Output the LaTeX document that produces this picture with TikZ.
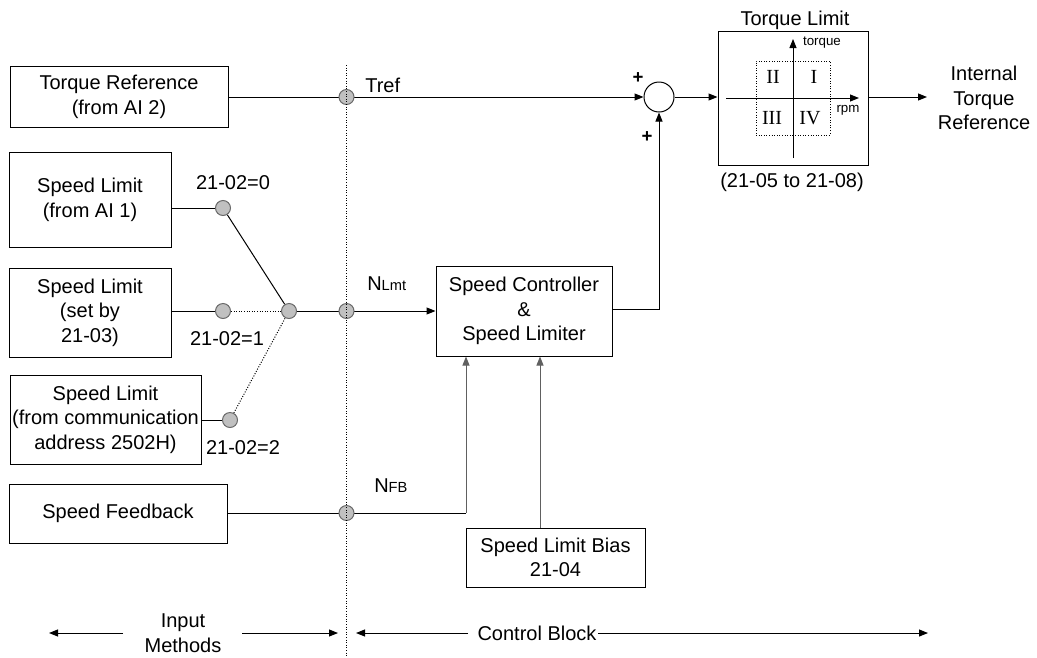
\documentclass[tikz,border=0pt]{standalone}
\usepackage{fontspec}
\setmainfont{Liberation Sans}
\newfontfamily\romfont{Liberation Serif}
\usetikzlibrary{arrows.meta,calc}
\pgfdeclarelayer{bg}
\pgfsetlayers{bg,main}
\definecolor{tapfill}{HTML}{C0C0C0}
\definecolor{tapline}{HTML}{6A6A6A}
\definecolor{upgray}{HTML}{606060}
\begin{document}
\begin{tikzpicture}[x=0.75pt,y=-0.75pt,
 base/.style={font=\fontsize{15}{18.5}\selectfont},
 blk/.style={draw, line width=0.75pt, align=center, inner sep=0pt, base},
 tap/.style={circle, draw=tapline, fill=tapfill, line width=0.75pt, minimum size=11.25pt, inner sep=0pt},
 sumc/.style={circle, draw, line width=0.75pt, minimum size=22.5pt, inner sep=0pt},
 lbl/.style={base, inner sep=0pt, align=center},
 conn/.style={line width=0.75pt},
 arr/.style={conn, -{Triangle[length=6.75pt,width=5.25pt]}},
 uparr/.style={arr, draw=upgray},
 dots/.style={line width=0.75pt, dash pattern=on 0.75pt off 1.2pt},
 smalltxt/.style={font=\fontsize{10}{12}\selectfont, inner sep=0pt},
 roman/.style={font=\romfont\fontsize{15}{18}\selectfont, inner sep=0pt}]
\useasboundingbox (0,0) rectangle (1037,657);

% blocks
\node[blk, minimum width=163.5pt, minimum height=45.75pt] (trq) at (119,96.5) {Torque Reference\\(from AI 2)};
\node[blk, minimum width=121.5pt, minimum height=71.25pt] (ai1) at (90,199.5) {Speed Limit\\(from AI 1)};
\node[blk, minimum width=121.5pt, minimum height=66.75pt] (set) at (90,312.5) {Speed Limit\\(set by\\21-03)};
\node[blk, minimum width=143.25pt, minimum height=66.75pt] (com) at (105.5,419.5) {Speed Limit\\(from communication\\address 2502H)};
\node[blk, minimum width=163.5pt, minimum height=44.25pt] (fb) at (118,513.5) {Speed Feedback};
\node[blk, minimum width=132pt, minimum height=67.5pt] (ctl) at (524,311) {Speed Controller\\\&\\Speed Limiter};
\node[blk, minimum width=134.25pt, minimum height=44.25pt] (bias) at (555.5,557.5) {Speed Limit Bias\\21-04};
\node[blk, minimum width=112.5pt, minimum height=100.5pt] (tl) at (793,98) {};
\node[draw, dots, minimum width=55.5pt, minimum height=55.5pt, inner sep=0pt] (q) at (793,98) {};
\node[sumc] (sum) at (659,97) {};

% switch points
\node[tap] (tapT) at (346.5,97) {};
\node[tap] (tapN) at (346.5,311) {};
\node[tap] (tapF) at (346.5,513) {};
\node[tap] (c0) at (223,208) {};
\node[tap] (c1) at (223,311) {};
\node[tap] (c2) at (230,420) {};
\node[tap] (jn) at (289,311) {};

% free ends
\coordinate (out) at (927,97);
\coordinate (fbc) at (466,513);
\coordinate (bx) at (540,528);
\coordinate (ctlo) at (612,309);
\coordinate (dtop) at (346.5,65);
\coordinate (dbot) at (346.5,657);
\coordinate (iL1) at (123,633); \coordinate (iL2) at (49,633);
\coordinate (iR1) at (242,633); \coordinate (iR2) at (338,633);
\coordinate (cL1) at (468,633); \coordinate (cL2) at (356,633);
\coordinate (cR1) at (598,633); \coordinate (cR2) at (928,633);

\begin{pgfonlayer}{bg}
\draw[arr] (trq.east |- sum) -- (sum.west);
\draw[conn] (ai1.east |- c0) -- (c0);
\draw[conn] (c0) -- (jn);
\draw[conn] (set.east |- c1) -- (c1);
\draw[dots] (c1) -- (jn);
\draw[conn] (com.east |- c2) -- (c2);
\draw[dots] (c2) -- (jn);
\draw[arr] (jn) -- (ctl.west |- jn);
\draw[conn] (fb.east |- tapF) -- (fbc);
\draw[uparr] (fbc) -- (fbc |- ctl.south);
\draw[uparr] (bx) -- (bx |- ctl.south);
\draw[arr] (ctlo) -| (sum.south);
\draw[arr] (sum.east) -- (tl.west |- sum);
\draw[arr] (tl.east |- sum) -- (out);
\end{pgfonlayer}

% axes in torque limit
\draw[arr] ($(tl.center)+(-67,0)$) -- ($(tl.center)+(66,0)$);
\draw[arr] ($(tl.center)+(0,60)$) -- ($(tl.center)+(0,-59)$);

% dotted separator
\draw[dots] (dtop) -- (dbot);

% bottom arrows
\draw[arr] (iL1) -- (iL2);
\draw[arr] (iR1) -- (iR2);
\draw[arr] (cL1) -- (cL2);
\draw[arr] (cR1) -- (cR2);

% labels
\node[lbl] (lin) at (183,633) {Input\\Methods};
\node[lbl] (lcb) at (537,633) {Control Block};
\node[lbl, anchor=base west] (ltref) at (365,92) {Tref};
\node[lbl, anchor=base west] (lnl) at (367,290) {N\fontsize{11}{12}\selectfont Lmt};
\node[lbl, anchor=base west] (lnf) at (374,492) {N\fontsize{11}{12}\selectfont FB};
\node[lbl] (l0) at (233,183) {21-02=0};
\node[lbl] (l1) at (227,339) {21-02=1};
\node[lbl] (l2) at (243,448) {21-02=2};
\node[lbl] (ltl) at (795,20) {Torque Limit};
\node[lbl] (lpar) at (792,182) {(21-05 to 21-08)};
\node[lbl] (litr) at (984,98) {Internal\\Torque\\Reference};
\node[lbl, font=\bfseries\fontsize{14}{16}\selectfont] (p1) at (638,78) {+};
\node[lbl, font=\bfseries\fontsize{14}{16}\selectfont] (p2) at (647,137) {+};
\node[smalltxt] (ltq) at (822,43) {torque};
\node[smalltxt] (lrpm) at (848,110) {rpm};
\node[roman] (r2) at (773,77) {II};
\node[roman] (r1) at (814,77) {I};
\node[roman] (r3) at (772,118) {III};
\node[roman] (r4) at (810,118) {IV};
\end{tikzpicture}
\end{document}
